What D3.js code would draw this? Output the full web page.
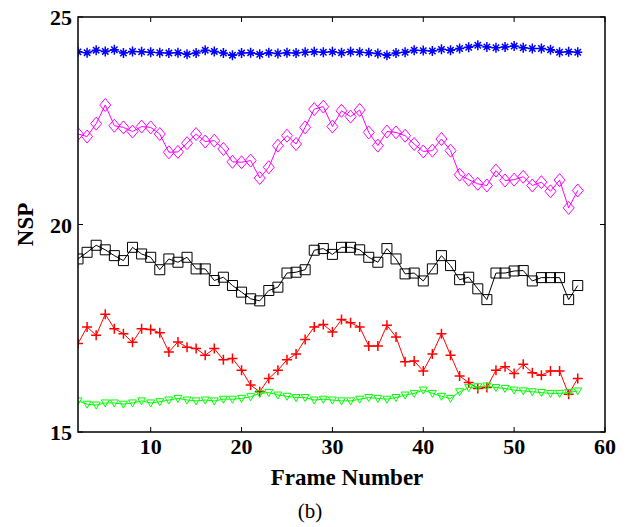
<!DOCTYPE html>
<html>
<head>
<meta charset="utf-8">
<script src="https://cdn.jsdelivr.net/npm/d3@7"></script>
<style>
  body { margin: 0; background: #fff; }
  text { font-family: "Liberation Serif", "Times New Roman", serif; }
</style>
</head>
<body>
<div id="chart"></div>
<script>
// frames 2..57
var frames = d3.range(2, 58);

var blueVals = [24.16, 24.14, 24.2, 24.17, 24.21, 24.13, 24.17, 24.16, 24.15, 24.14, 24.13, 24.14, 24.1, 24.13, 24.2, 24.17,
    24.13, 24.08, 24.13, 24.14, 24.1, 24.14, 24.12, 24.14, 24.13, 24.15, 24.16, 24.15, 24.16, 24.14, 24.16, 24.15,
    24.14, 24.12, 24.08, 24.13, 24.15, 24.2, 24.19, 24.18, 24.22, 24.2, 24.24, 24.27, 24.32, 24.28, 24.26, 24.28,
    24.3, 24.26, 24.24, 24.24, 24.21, 24.15, 24.16, 24.15];
var magentaVals = [22.18, 22.12, 22.43, 22.88, 22.38, 22.34, 22.24, 22.36, 22.34, 22.18, 21.74, 21.75, 21.96, 22.18,
    22.0, 22.02, 21.82, 21.51, 21.5, 21.54, 21.12, 21.38, 21.9, 22.14, 21.94, 22.34, 22.78, 22.84, 22.36, 22.74,
    22.6, 22.76, 22.22, 21.9, 22.24, 22.22, 22.14, 21.94, 21.76, 21.78, 22.06, 21.78, 21.2, 21.08, 20.98, 20.94,
    21.3, 21.06, 21.08, 21.15, 20.94, 21.02, 20.8, 21.07, 20.4, 20.82];
var blackVals = [19.17, 19.33, 19.5, 19.39, 19.25, 19.13, 19.45, 19.29, 19.21, 18.91, 19.17, 19.09, 19.21, 18.93,
    18.93, 18.65, 18.73, 18.53, 18.37, 18.21, 18.16, 18.41, 18.49, 18.83, 18.85, 18.91, 19.38, 19.42, 19.28, 19.45,
    19.45, 19.39, 19.21, 19.09, 19.42, 19.17, 18.81, 18.83, 18.64, 18.93, 19.25, 19.01, 18.67, 18.73, 18.45, 18.19,
    18.83, 18.83, 18.88, 18.89, 18.64, 18.72, 18.72, 18.72, 18.19, 18.53];
var redVals = [17.13, 17.53, 17.33, 17.84, 17.49, 17.37, 17.16, 17.49, 17.47, 17.39, 16.93, 17.17, 17.04, 17.01,
    16.85, 17.01, 16.74, 16.77, 16.49, 16.13, 15.97, 16.29, 16.49, 16.74, 16.88, 17.23, 17.53, 17.59, 17.41, 17.71,
    17.63, 17.53, 17.07, 17.07, 17.57, 17.29, 16.69, 16.71, 16.47, 16.88, 17.37, 16.85, 16.35, 16.19, 16.05, 16.07,
    16.49, 16.57, 16.41, 16.63, 16.43, 16.37, 16.47, 16.47, 15.91, 16.29];
var greenVals = [15.75, 15.67, 15.65, 15.7, 15.7, 15.67, 15.7, 15.75, 15.7, 15.73, 15.77, 15.81, 15.77, 15.75,
    15.77, 15.75, 15.79, 15.79, 15.81, 15.85, 15.93, 15.95, 15.89, 15.86, 15.83, 15.83, 15.77, 15.79, 15.77, 15.75,
    15.75, 15.79, 15.83, 15.81, 15.79, 15.83, 15.89, 15.93, 16.01, 15.93, 15.86, 15.81, 15.97, 16.07, 16.09, 16.11,
    16.07, 16.05, 16.01, 15.99, 15.97, 15.95, 15.93, 15.93, 15.95, 15.99];

var xTicks = [10, 20, 30, 40, 50, 60];
var yTicks = [15, 20, 25];

var series = [
    { name: "blue", color: "#0000ff", marker: "asterisk", values: blueVals },
    { name: "magenta", color: "#ff00ff", marker: "diamond", values: magentaVals },
    { name: "black", color: "#000000", marker: "square", values: blackVals },
    { name: "red", color: "#ff0000", marker: "plus", values: redVals },
    { name: "green", color: "#00ff00", marker: "triangle", values: greenVals }
];

var width = 626, height = 527;
var margin = { top: 17, right: 21, bottom: 95, left: 78 };

var svg = d3.select("#chart").append("svg")
    .attr("width", width)
    .attr("height", height);

var x = d3.scaleLinear().domain([2, 60]).range([margin.left, width - margin.right]);
var y = d3.scaleLinear().domain([15, 25]).range([height - margin.bottom, margin.top]);

svg.append("clipPath").attr("id", "clip")
    .append("rect")
    .attr("x", margin.left).attr("y", margin.top)
    .attr("width", x.range()[1] - x.range()[0])
    .attr("height", y.range()[0] - y.range()[1]);

var plot = svg.append("g").attr("clip-path", "url(#clip)");

var line = d3.line()
    .x(function (d, i) { return x(frames[i]); })
    .y(function (d) { return y(d); });

function markerPath(type) {
    switch (type) {
        case "diamond": return "M0,-6.5L5.5,0L0,6.5L-5.5,0Z";
        case "square": return "M-5,-5H5V5H-5Z";
        case "plus": return "M-5,0H5M0,-5V5";
        case "triangle": return "M-4,-3H4L0,4Z";
        case "asterisk": return "M-4.5,0H4.5M0,-5V5M-3.2,-3.2L3.2,3.2M-3.2,3.2L3.2,-3.2";
    }
}

series.forEach(function (s) {
    var g = plot.append("g").attr("class", "series-" + s.name);
    g.append("path")
        .datum(s.values)
        .attr("d", line)
        .attr("fill", "none")
        .attr("stroke", s.color)
        .attr("stroke-width", 1);
    g.selectAll(".mark")
        .data(s.values)
        .enter().append("path")
        .attr("class", "mark")
        .attr("transform", function (d, i) {
            return "translate(" + x(frames[i]) + "," + y(d) + ")";
        })
        .attr("d", markerPath(s.marker))
        .attr("fill", "none")
        .attr("stroke", s.color)
        .attr("stroke-width", s.marker == "plus" || s.marker == "asterisk" ? 1.5 : 1);
});

// frame box + inner ticks
var x0 = x.range()[0], x1 = x.range()[1], y0 = y.range()[0], y1 = y.range()[1];
svg.append("rect")
    .attr("x", x0).attr("y", y1)
    .attr("width", x1 - x0).attr("height", y0 - y1)
    .attr("fill", "none").attr("stroke", "#000").attr("stroke-width", 1.5);

var tickLen = 5;
xTicks.forEach(function (t) {
    svg.append("line").attr("x1", x(t)).attr("x2", x(t)).attr("y1", y0).attr("y2", y0 - tickLen)
        .attr("stroke", "#000");
    svg.append("line").attr("x1", x(t)).attr("x2", x(t)).attr("y1", y1).attr("y2", y1 + tickLen)
        .attr("stroke", "#000");
    svg.append("text")
        .attr("x", x(t)).attr("y", y0 + 22)
        .attr("text-anchor", "middle")
        .style("font-size", "22px").style("font-weight", "bold")
        .text(t);
});
yTicks.forEach(function (t) {
    svg.append("line").attr("x1", x0).attr("x2", x0 + tickLen).attr("y1", y(t)).attr("y2", y(t))
        .attr("stroke", "#000");
    svg.append("line").attr("x1", x1).attr("x2", x1 - tickLen).attr("y1", y(t)).attr("y2", y(t))
        .attr("stroke", "#000");
    svg.append("text")
        .attr("x", x0 - 6).attr("y", y(t) + 8)
        .attr("text-anchor", "end")
        .style("font-size", "22px").style("font-weight", "bold")
        .text(t);
});

svg.append("text")
    .attr("x", 347).attr("y", 485)
    .attr("text-anchor", "middle")
    .style("font-size", "23px").style("font-weight", "bold")
    .text("Frame Number");

svg.append("text")
    .attr("transform", "translate(33," + ((y0 + y1) / 2) + ")rotate(-90)")
    .attr("text-anchor", "middle")
    .style("font-size", "23px").style("font-weight", "bold")
    .text("NSP");

svg.append("text")
    .attr("x", 310).attr("y", 518)
    .attr("text-anchor", "middle")
    .style("font-size", "21px")
    .text("(b)");
</script>
</body>
</html>
